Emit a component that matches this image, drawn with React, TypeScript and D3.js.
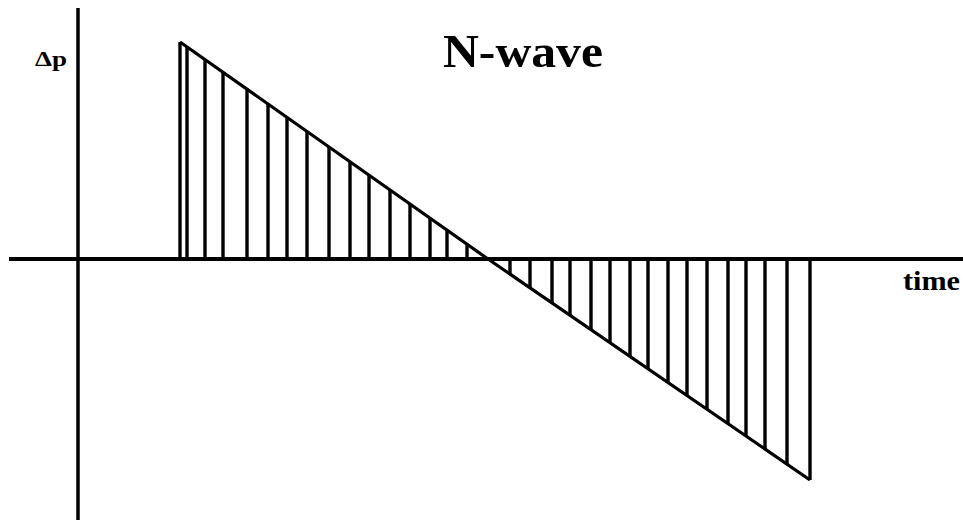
import React from "react";
import * as d3 from "d3";

// Wave vertices: [time, pressure]
const waveTimes = [1.02, 4.1, 7.32];
const waveValues = [1, 0, -1];
// Hatch line times
const hatchTimes = [
  1.02, 1.09, 1.27, 1.45, 1.69, 1.9, 2.09, 2.29, 2.51, 2.72, 2.91, 3.12, 3.32, 3.52, 3.69, 3.89,
  4.32, 4.52, 4.74, 4.92, 5.13, 5.32, 5.52, 5.7, 5.9, 6.09, 6.29, 6.5, 6.68, 6.87, 7.09, 7.32,
];
const titleText = "N-wave";
const xLabel = "time";
const yLabel = "Δp";

const W = 963;
const H = 520;

export default function App() {
  const x = d3.scaleLinear().domain([-0.69, 8.85]).range([9, 963]);
  const y = d3.scaleLinear().domain([-1, 0, 1]).range([480, 259, 42]);
  const pValue = (t: number) => {
    if (t <= waveTimes[1]) {
      return waveValues[0] + ((t - waveTimes[0]) / (waveTimes[1] - waveTimes[0])) * (waveValues[1] - waveValues[0]);
    }
    return waveValues[1] + ((t - waveTimes[1]) / (waveTimes[2] - waveTimes[1])) * (waveValues[2] - waveValues[1]);
  };
  const pts: [number, number][] = waveTimes.map((t, i) => [t, waveValues[i]]);
  const line = d3
    .line<[number, number]>()
    .x((d) => x(d[0]))
    .y((d) => y(d[1]));
  const font = "'Liberation Serif', 'DejaVu Serif', serif";
  return (
    <svg
      width={W}
      height={H}
      style={{ position: "absolute", left: 0, top: 0, background: "#fff" }}
    >
      <rect x={0} y={0} width={W} height={H} fill="#fff" />
      {/* axes */}
      <line x1={x(0)} x2={x(0)} y1={8} y2={H} stroke="#000" strokeWidth={3.5} />
      <line x1={x(-0.69)} x2={x(8.85)} y1={y(0)} y2={y(0)} stroke="#000" strokeWidth={4} />
      {/* hatches */}
      {hatchTimes.map((t, i) => (
        <line
          key={i}
          x1={x(t)}
          x2={x(t)}
          y1={y(0)}
          y2={y(Math.max(-1, Math.min(1, pValue(t))))}
          stroke="#000"
          strokeWidth={3.4}
        />
      ))}
      {/* wave */}
      <path d={line(pts) || ""} fill="none" stroke="#000" strokeWidth={3.2} strokeLinejoin="round" />
      {/* texts */}
      <text
        x={443}
        y={67}
        fontFamily={font}
        fontWeight="bold"
        fontSize={47}
        textLength={160}
        lengthAdjust="spacingAndGlyphs"
        fill="#000"
      >
        {titleText}
      </text>
      <text
        x={903}
        y={290}
        fontFamily={font}
        fontWeight="bold"
        fontSize={27}
        textLength={57}
        lengthAdjust="spacingAndGlyphs"
        fill="#000"
      >
        {xLabel}
      </text>
      <text
        x={35}
        y={66}
        fontFamily={font}
        fontWeight="bold"
        fontSize={20}
        textLength={32}
        lengthAdjust="spacingAndGlyphs"
        fill="#000"
      >
        {yLabel}
      </text>
    </svg>
  );
}
